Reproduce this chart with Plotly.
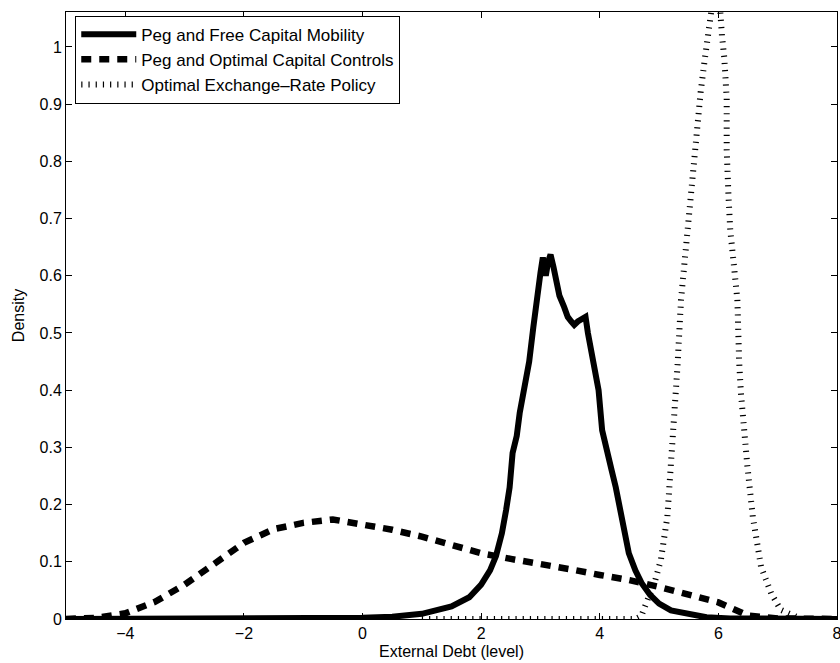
import plotly.graph_objects as go

# Peg and Free Capital Mobility
free_x = [-5, -3, -1, 0, 0.5, 1.0, 1.5, 1.8, 2.0, 2.15, 2.25, 2.35, 2.42, 2.48, 2.53, 2.6, 2.65,
          2.73, 2.81, 2.88, 2.95, 3.0, 3.04, 3.09, 3.13, 3.17, 3.22, 3.26, 3.32, 3.4, 3.46, 3.52,
          3.57, 3.63, 3.7, 3.76, 3.8, 3.85, 3.92, 3.98, 4.04, 4.12, 4.2, 4.27, 4.38, 4.49, 4.6,
          4.71, 4.85, 5.0, 5.2, 5.5, 5.8, 6.2, 7, 8]
free_y = [0, 0, 0.0005, 0.002, 0.004, 0.009, 0.022, 0.038, 0.06, 0.085, 0.11, 0.15, 0.19, 0.23,
          0.29, 0.32, 0.36, 0.40, 0.45, 0.51, 0.58, 0.605, 0.632, 0.600, 0.625, 0.637, 0.615,
          0.593, 0.565, 0.545, 0.528, 0.52, 0.514, 0.52, 0.525, 0.528, 0.50, 0.47, 0.43, 0.40,
          0.33, 0.29, 0.26, 0.23, 0.17, 0.115, 0.085, 0.062, 0.042, 0.027, 0.015, 0.008, 0.003,
          0.001, 0, 0]

# Peg and Optimal Capital Controls
ctrl_x = [-5, -4.5, -4, -3.5, -3, -2.5, -2, -1.5, -1, -0.5, 0, 0.5, 1, 1.5, 2, 2.5, 3, 3.5, 4,
          4.5, 5, 5.5, 6, 6.5, 7, 8]
ctrl_y = [0, 0.002, 0.01, 0.03, 0.06, 0.095, 0.133, 0.157, 0.168, 0.174, 0.166, 0.156, 0.144,
          0.129, 0.115, 0.105, 0.097, 0.087, 0.077, 0.068, 0.056, 0.043, 0.029, 0.006, 0.001, 0]

# Optimal Exchange-Rate Policy
opt_x = [1.0, 4.6, 4.7, 4.75, 4.83, 4.92, 5.03, 5.14, 5.2, 5.25, 5.31, 5.37, 5.45, 5.52, 5.59,
         5.63, 5.7, 5.76, 5.82, 5.88, 5.93, 5.97, 6.02, 6.06, 6.1, 6.14, 6.14, 6.17, 6.2, 6.26,
         6.32, 6.35, 6.38, 6.49, 6.58, 6.72, 6.89, 7.05, 7.22, 7.4]
opt_y = [0, 0, 0.005, 0.02, 0.04, 0.062, 0.103, 0.179, 0.266, 0.365, 0.441, 0.558, 0.65, 0.72,
         0.80, 0.85, 0.92, 0.97, 1.025, 1.07, 1.10, 1.10, 1.08, 1.02, 0.98, 0.91, 0.82, 0.74,
         0.68, 0.62, 0.558, 0.45, 0.395, 0.266, 0.179, 0.091, 0.045, 0.016, 0.007, 0]

names = ["Peg and Free Capital Mobility", "Peg and Optimal Capital Controls",
         "Optimal Exchange\u2013Rate Policy"]

x_ticks = [-4, -2, 0, 2, 4, 6, 8]
y_ticks = [0, 0.1, 0.2, 0.3, 0.4, 0.5, 0.6, 0.7, 0.8, 0.9, 1]
y_labels = ["0", "0.1", "0.2", "0.3", "0.4", "0.5", "0.6", "0.7", "0.8", "0.9", "1"]

fig = go.Figure()
fig.add_trace(go.Scatter(x=free_x, y=free_y, mode="lines", name=names[0],
                         line=dict(color="black", width=6)))
fig.add_trace(go.Scatter(x=ctrl_x, y=ctrl_y, mode="lines", name=names[1],
                         line=dict(color="black", width=6.5, dash="10px,8px")))
fig.add_trace(go.Scatter(x=opt_x, y=opt_y, mode="lines", name=names[2],
                         line=dict(color="black", width=6, dash="1.2px,6px")))

font = "Liberation Sans, Arial, Helvetica, sans-serif"
axis_common = dict(showline=True, linecolor="black", linewidth=1, mirror="ticks",
                   ticks="inside", ticklen=6, tickcolor="black", showgrid=False,
                   zeroline=False, tickfont=dict(size=16, color="black", family=font),
                   ticklabeloverflow="allow", automargin=False)

fig.update_xaxes(range=[-5, 8], tickvals=x_ticks,
                 title=dict(text="External Debt (level)", font=dict(size=16, color="black", family=font),
                            standoff=4),
                 **axis_common)
fig.update_yaxes(range=[0, 1.061], tickvals=y_ticks, ticktext=y_labels,
                 title=dict(text="Density", font=dict(size=16, color="black", family=font),
                            standoff=10),
                 **axis_common)

fig.update_layout(
    width=840, height=663,
    margin=dict(l=66, r=3, t=12, b=44),
    plot_bgcolor="white", paper_bgcolor="white",
    font=dict(family=font, color="black"),
    legend=dict(x=0.012, y=0.994, xanchor="left", yanchor="top",
                bgcolor="white", bordercolor="black", borderwidth=1,
                font=dict(size=17, color="black", family=font),
                itemwidth=55, tracegroupgap=0),
)

fig.write_html("out.html")
